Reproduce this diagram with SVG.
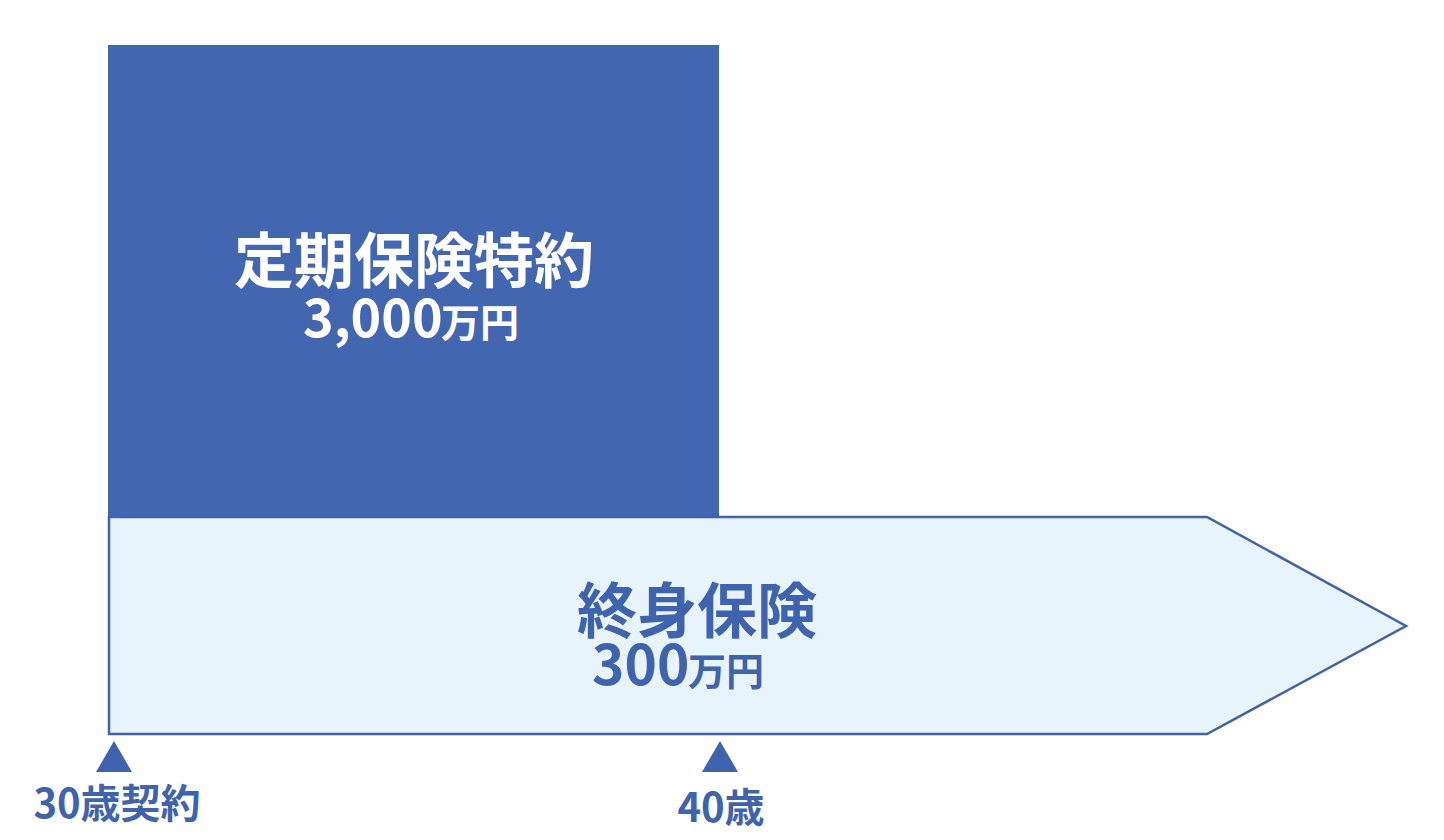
<svg xmlns="http://www.w3.org/2000/svg" width="1444" height="840" viewBox="0 0 1444 840">
<style>
.t{font-family:"Noto Sans CJK JP","Noto Sans CJK SC",sans-serif;font-weight:700;}
.w{fill:#ffffff;}
.b{fill:#3f63ad;}
.tri{fill:#3f63ad;}
</style>
<rect width="1444" height="840" fill="#ffffff"/>
<g id="term-rider">
<rect x="108" y="45" width="611" height="473" fill="#4266b0"/>
<text class="t w" x="414" y="283" font-size="60" text-anchor="middle">定期保険特約</text>
<text class="t w" y="337"><tspan x="303" font-size="52">3,000</tspan><tspan x="441" font-size="39">万円</tspan></text>
</g>
<g id="whole-life">
<path d="M109,517 L1207,517 L1406,626 L1207,734 L109,734 Z" fill="#e7f4fc" stroke="#4262a8" stroke-width="2.5" stroke-linejoin="miter"/>
<text class="t b" x="697" y="633" font-size="60" text-anchor="middle">終身保険</text>
<text class="t b" y="685"><tspan x="592" font-size="55">300</tspan><tspan x="688" font-size="38">万円</tspan></text>
</g>
<g id="mark-30">
<polygon class="tri" points="96,772 114,741 132,772"/>
<text class="t b" x="117" y="818" font-size="40" text-anchor="middle">30歳契約</text>
</g>
<g id="mark-40">
<polygon class="tri" points="702,772 720,741 738,772"/>
<text class="t b" x="721" y="822" font-size="40" text-anchor="middle">40歳</text>
</g>
<g id="connectors"></g>
</svg>
